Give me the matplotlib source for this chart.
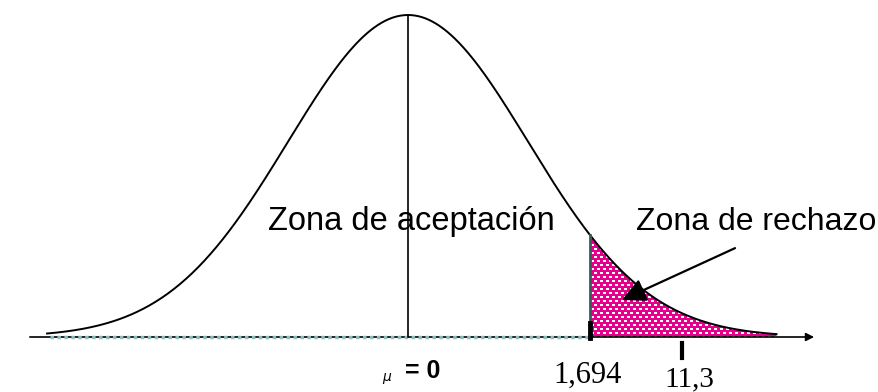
import numpy as np
import matplotlib.pyplot as plt
from matplotlib.patches import Polygon

# Datos
mu = 0.0
sigma = 1.117
critico = 1.694
x_min, x_max = -3.36, 3.43
etiqueta_critico = "1,694"
etiqueta_marca = "11,3"
valor_marca = 2.55
texto_aceptacion = "Zona de aceptación"
texto_rechazo = "Zona de rechazo"

x = np.linspace(x_min, x_max, 600)
y = np.exp(-0.5 * ((x - mu) / sigma) ** 2)

fig = plt.figure(figsize=(8.79, 3.92), dpi=100)
ax = fig.add_axes([0, 0, 1, 1])
xl = (-3.798, 4.384)
yl = (-0.1708, 1.0466)
ax.set_xlim(xl)
ax.set_ylim(yl)
ax.axis('off')

# zona de rechazo con textura
y_crit = np.exp(-0.5 * ((critico - mu) / sigma) ** 2)
mask = x >= critico
xr = np.concatenate([[critico, critico], x[mask], [x[mask][-1]]])
yr = np.concatenate([[0, y_crit], y[mask], [0]])
poly = Polygon(np.column_stack([xr, yr]), closed=True, facecolor='none', edgecolor='none')
ax.add_patch(poly)

h, w = 392, 879
tex = np.zeros((h, w, 3))
tex[:] = np.array([228, 0, 140]) / 255
for r in range(0, h, 4):
    off = 0 if (r // 4) % 2 == 0 else 3
    for c in range(off, w, 6):
        tex[r:r + 2, c:c + 3] = 1.0
im = ax.imshow(tex, extent=(xl[0], xl[1], yl[0], yl[1]), aspect='auto',
               interpolation='nearest', zorder=1)
im.set_clip_path(poly)

# eje horizontal
ax.annotate('', xy=(3.78, 0), xytext=(-3.52, 0),
            arrowprops=dict(arrowstyle='-|>', color='black', lw=1.2,
                            mutation_scale=12, shrinkA=0, shrinkB=0), zorder=2)
ax.plot([x_min + 0.03, critico], [0, 0], color='#8fbcbc', lw=2.5,
        linestyle=(0, (1, 1)), zorder=3)

# curva normal
ax.plot(x, y, color='black', lw=1.4, zorder=4)

# linea de la media
ax.plot([mu, mu], [0, 1], color='black', lw=1.2, zorder=4)

# linea del valor critico
ax.plot([critico, critico], [0, y_crit], color='#3c5a5a', lw=2, zorder=4)
ax.plot([critico, critico], [-0.004, 0.043], color='black', lw=3.5, zorder=5)

# marca
ax.plot([valor_marca, valor_marca], [-0.0186, -0.065], color='black', lw=3, zorder=4)

# textos
ax.text(-1.303, 0.332, texto_aceptacion, fontsize=23.5, family='Liberation Sans',
        ha='left', va='baseline', zorder=6)
ax.text(2.122, 0.332, texto_rechazo, fontsize=23, family='Liberation Sans',
        ha='left', va='baseline', zorder=6)
ax.text(1.675, -0.143, etiqueta_critico, fontsize=22, family='Liberation Serif',
        ha='center', va='baseline')
ax.text(2.616, -0.152, etiqueta_marca, fontsize=21, family='Liberation Serif',
        ha='center', va='baseline')
ax.text(-0.195, -0.137, r'$\mu$', fontsize=10, ha='center', va='baseline')
ax.text(-0.03, -0.127, '= 0', fontsize=18, family='Liberation Sans',
        fontweight='bold', ha='left', va='baseline')

# flecha
ax.annotate('', xy=(1.992, 0.115), xytext=(3.044, 0.276),
            arrowprops=dict(arrowstyle='-|>', color='black', lw=1.6,
                            mutation_scale=36, shrinkA=0, shrinkB=0), zorder=7)

fig.savefig('out.png', dpi=100)
